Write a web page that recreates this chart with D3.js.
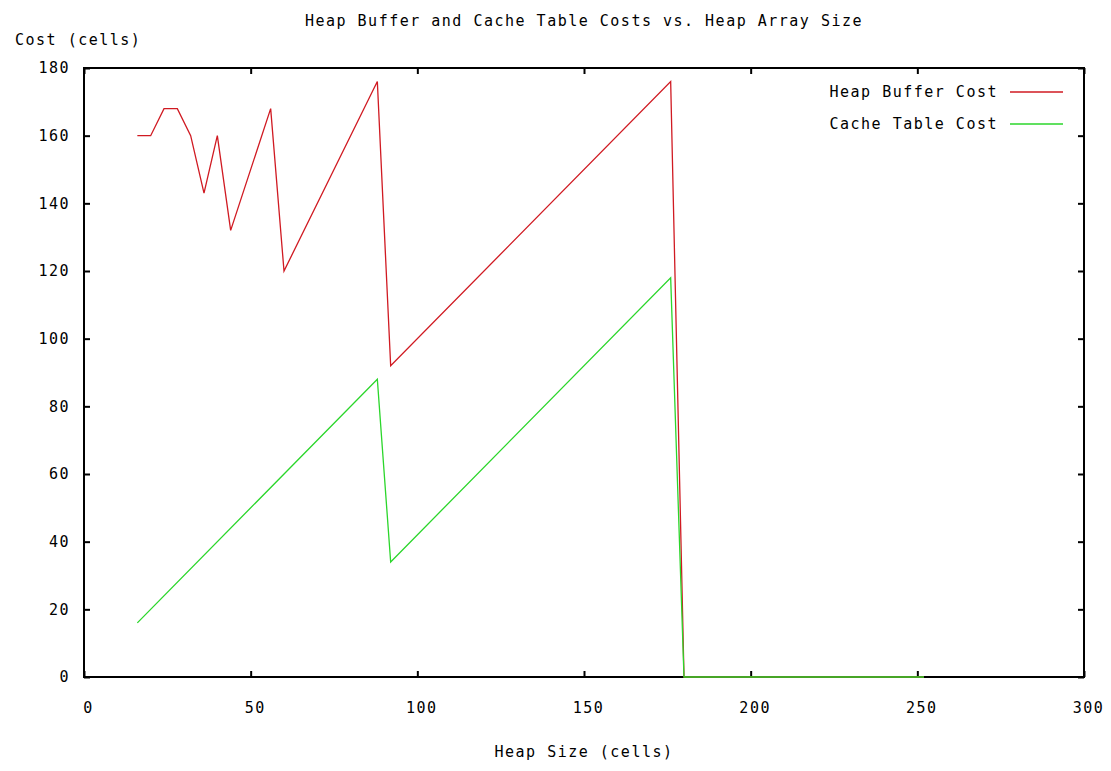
<html>
<head>
<script src="https://d3js.org/d3.v7.min.js"></script>
<style>
body { margin: 0; background: #fff; }
text { font-family: "DejaVu Sans Mono", monospace; font-size: 15px; fill: #000; letter-spacing: 1.5px; }
</style>
</head>
<body>
<svg width="1111" height="771"></svg>
<script>
// heap size (cells) and costs
var bufX   = [16, 20, 24, 28, 32, 36, 40, 44, 56, 60, 88, 92, 176, 180, 252];
var bufY   = [160, 160, 168, 168, 160, 143, 160, 132, 168, 120, 176, 92, 176, 0, 0];
var cacheX = [16, 88, 92, 176, 180, 252];
var cacheY = [16, 88, 34, 118, 0, 0];
var xTicks = [0, 50, 100, 150, 200, 250, 300];
var yTicks = [0, 20, 40, 60, 80, 100, 120, 140, 160, 180];
var seriesNames = ["Heap Buffer Cost", "Cache Table Cost"];

var svg = d3.select("svg"),
    margin = {top: 68, right: 27, bottom: 94, left: 84},
    width = +svg.attr("width") - margin.left - margin.right,
    height = +svg.attr("height") - margin.top - margin.bottom,
    g = svg.append("g").attr("transform", "translate(" + margin.left + "," + margin.top + ")");

var x = d3.scaleLinear().domain([0, 300]).range([0, width]);
var y = d3.scaleLinear().domain([0, 180]).range([height, 0]);

// ticks point inwards on all four sides, like gnuplot
var xAxis = g.append("g")
    .attr("transform", "translate(0," + height + ")")
    .call(d3.axisBottom(x).tickValues(xTicks).tickSize(-6).tickPadding(25));
xAxis.selectAll("text").attr("dx", 4);
g.append("g")
    .call(d3.axisTop(x).tickValues(xTicks).tickSize(-6).tickFormat(""));
g.append("g")
    .call(d3.axisLeft(y).tickValues(yTicks).tickSize(-6).tickPadding(14));
g.append("g")
    .attr("transform", "translate(" + width + ",0)")
    .call(d3.axisRight(y).tickValues(yTicks).tickSize(-6).tickFormat(""));
g.selectAll(".domain").remove();
g.selectAll(".tick line").attr("stroke", "#000").attr("stroke-width", 2);
g.selectAll(".tick text").attr("font-family", null).attr("font-size", null);

g.append("rect")
    .attr("width", width)
    .attr("height", height)
    .attr("fill", "none")
    .attr("stroke", "#000")
    .attr("stroke-width", 2);

var line = d3.line()
    .x(function(d) { return x(d[0]); })
    .y(function(d) { return y(d[1]); });

var series = [
  {name: seriesNames[0], color: "#d01a22", data: d3.zip(bufX, bufY)},
  {name: seriesNames[1], color: "#2bd62b", data: d3.zip(cacheX, cacheY)}
];

g.selectAll(".series")
    .data(series)
  .enter().append("path")
    .attr("class", "series")
    .attr("d", function(d) { return line(d.data); })
    .attr("fill", "none")
    .attr("stroke", function(d) { return d.color; })
    .attr("stroke-width", 1.3);

// legend, top right inside the frame
var legend = g.selectAll(".legend")
    .data(series)
  .enter().append("g")
    .attr("class", "legend")
    .attr("transform", function(d, i) { return "translate(0," + (24 + i * 32) + ")"; });
legend.append("text")
    .attr("x", width - 86)
    .attr("dy", "0.35em")
    .attr("text-anchor", "end")
    .text(function(d) { return d.name; });
legend.append("line")
    .attr("x1", width - 74)
    .attr("x2", width - 21)
    .attr("stroke", function(d) { return d.color; })
    .attr("stroke-width", 1.3);

svg.append("text")
    .attr("x", margin.left + width / 2)
    .attr("y", 26)
    .attr("text-anchor", "middle")
    .text("Heap Buffer and Cache Table Costs vs. Heap Array Size");
svg.append("text")
    .attr("x", 15)
    .attr("y", 45)
    .text("Cost (cells)");
svg.append("text")
    .attr("x", margin.left + width / 2)
    .attr("y", 757)
    .attr("text-anchor", "middle")
    .text("Heap Size (cells)");
</script>
</body>
</html>
